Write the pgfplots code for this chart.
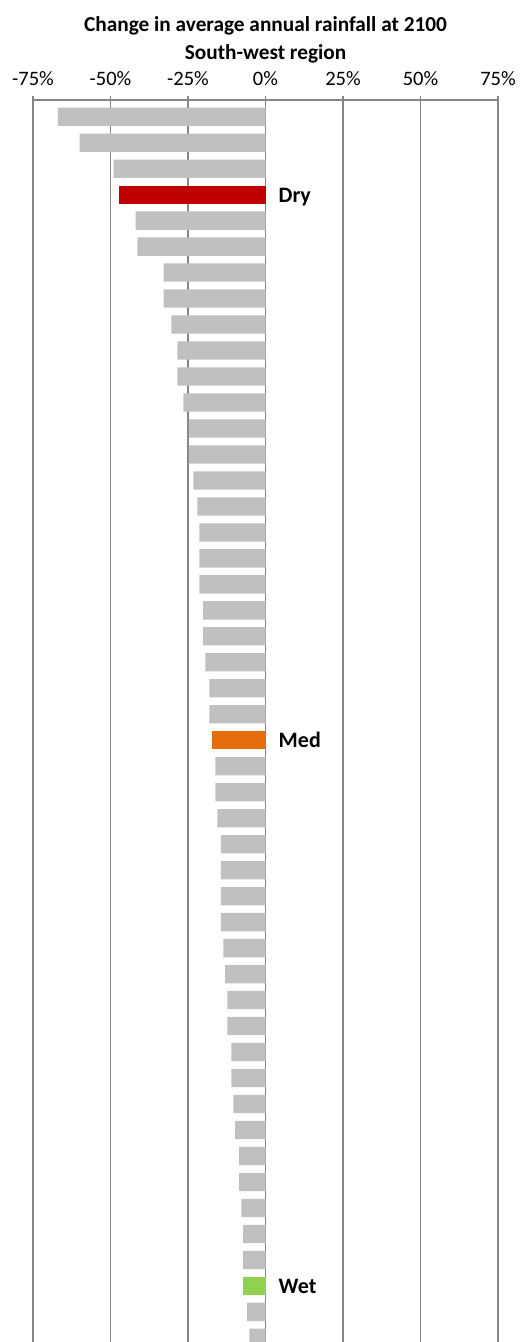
\documentclass[border=0pt]{standalone}
\usepackage{fontspec}
\setmainfont{Carlito}
\usepackage{pgfplots}
\pgfplotsset{compat=1.18}
\definecolor{gridgray}{RGB}{134,134,134}
\definecolor{bargray}{RGB}{192,192,192}
\definecolor{drycol}{RGB}{192,0,0}
\definecolor{medcol}{RGB}{228,108,10}
\definecolor{wetcol}{RGB}{146,208,80}
\begin{document}
\begin{tikzpicture}
\begin{axis}[
  scale only axis, width=465pt, height=1242pt,
  xmin=-75, xmax=75, ymin=0.357, ymax=48.16, y dir=reverse,
  axis x line*=top, axis y line=none,
  xtick={-75,-50,-25,0,25,50,75},
  xticklabels={-75\%,-50\%,-25\%,0\%,25\%,50\%,75\%},
  xtick align=outside, major tick length=4pt,
  xmajorgrids, grid style={gridgray, line width=1.2pt},
  axis line style={gridgray, line width=1.2pt},
  tick style={gridgray, line width=1.2pt},
  ticklabel style={font=\fontsize{20.5}{24}\selectfont},
  xticklabel style={yshift=7pt},
  clip mode=individual,
]
% all models, sorted
\addplot[xbar, bar width=18.3pt, fill=bargray, draw=none] coordinates {
  (-67.0,1) (-60.0,2) (-49.0,3) (-41.9,5) (-41.3,6) (-32.9,7) (-32.9,8)
  (-30.4,9) (-28.4,10) (-28.4,11) (-26.5,12) (-24.7,13) (-24.7,14)
  (-23.3,15) (-22.0,16) (-21.3,17) (-21.3,18) (-21.3,19) (-20.1,20)
  (-20.1,21) (-19.4,22) (-18.1,23) (-18.1,24) (-16.2,26) (-16.2,27)
  (-15.5,28) (-14.4,29) (-14.4,30) (-14.4,31) (-14.4,32) (-13.6,33)
  (-13.0,34) (-12.3,35) (-12.3,36) (-11.0,37) (-11.0,38) (-10.4,39)
  (-9.8,40) (-8.5,41) (-8.5,42) (-7.8,43) (-7.2,44) (-7.2,45)
  (-5.9,47) (-5.2,48)
};
\addplot[xbar, bar width=18.3pt, fill=drycol, draw=none] coordinates {(-47.3,4)};
\addplot[xbar, bar width=18.3pt, fill=medcol, draw=none] coordinates {(-17.1,25)};
\addplot[xbar, bar width=18.3pt, fill=wetcol, draw=none] coordinates {(-7.4,46)};
\node[anchor=base west, inner sep=0pt, xshift=13pt, yshift=-7.5pt, font=\bfseries\fontsize{22}{26}\selectfont] at (axis cs:0,4) {Dry};
\node[anchor=base west, inner sep=0pt, xshift=13pt, yshift=-7.5pt, font=\bfseries\fontsize{22}{26}\selectfont] at (axis cs:0,25) {Med};
\node[anchor=base west, inner sep=0pt, xshift=13pt, yshift=-7.5pt, font=\bfseries\fontsize{22}{26}\selectfont] at (axis cs:0,46) {Wet};
\end{axis}
\node[anchor=base, inner sep=0pt, font=\bfseries\fontsize{21.3}{26}\selectfont] at ([yshift=68.3pt]current axis.north) {Change in average annual rainfall at 2100};
\node[anchor=base, inner sep=0pt, font=\bfseries\fontsize{21.3}{26}\selectfont] at ([yshift=40.7pt]current axis.north) {South-west region};
\pgfresetboundingbox
\path[use as bounding box] ([xshift=-33pt,yshift=100pt]current axis.north west) rectangle ([xshift=24pt]current axis.south east);
\end{tikzpicture}
\end{document}
